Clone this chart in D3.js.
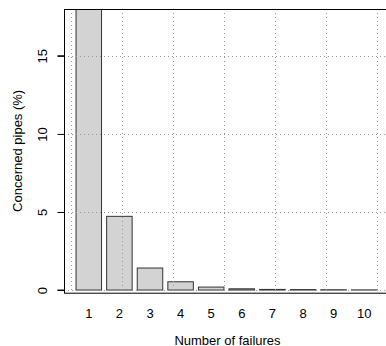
<!DOCTYPE html>
<html>
<head>
<meta charset="utf-8">
<script src="https://cdn.jsdelivr.net/npm/d3@7"></script>
<style>
  html, body { margin: 0; padding: 0; background: #fff; }
  svg { display: block; font-family: "Liberation Sans", Arial, sans-serif; }
</style>
</head>
<body>
<svg id="chart" width="386" height="346"></svg>
<script>
// Share of pipes (%) by number of recorded failures
const categories = ["1", "2", "3", "4", "5", "6", "7", "8", "9", "10"];
const values = [72.0, 4.72, 1.41, 0.53, 0.19, 0.08, 0.04, 0.03, 0.02, 0.01];
const yTicks = [0, 5, 10, 15];
const xGrid = [0, 2, 4, 6, 8, 10, 12];
const yGrid = [0, 5, 10, 15];

const svg = d3.select("#chart");
const fontSize = 13;

// Plot region (user coordinates follow a barplot layout: width 1, space 0.2)
const plot = { left: 64, top: 9, right: 389, bottom: 292.7 };
const x = d3.scaleLinear().domain([-0.272, 12.472]).range([plot.left, plot.right]);
const y = d3.scaleLinear().domain([-0.17, 18]).range([plot.bottom, plot.top]);

svg.append("defs").append("clipPath").attr("id", "plotClip")
  .append("rect")
  .attr("x", plot.left).attr("y", plot.top)
  .attr("width", plot.right - plot.left).attr("height", plot.bottom - plot.top);

const g = svg.append("g").attr("clip-path", "url(#plotClip)");

// Bars
const barW = 1, space = 0.2;
g.selectAll("rect.bar")
  .data(values)
  .join("rect")
  .attr("class", "bar")
  .attr("x", (d, i) => x(space + i * (barW + space)))
  .attr("width", (d, i) => x(barW) - x(0))
  .attr("y", d => y(d))
  .attr("height", d => y(0) - y(d))
  .attr("fill", "#d3d3d3")
  .attr("stroke", "#333")
  .attr("stroke-width", 1);

// Dotted grid drawn over the bars
g.selectAll("line.vgrid")
  .data(xGrid)
  .join("line")
  .attr("x1", d => Math.round(x(d)) + 0.5).attr("x2", d => Math.round(x(d)) + 0.5)
  .attr("y1", plot.top).attr("y2", plot.bottom)
  .attr("stroke", "#9a9a9a").attr("stroke-dasharray", "1,3");

g.selectAll("line.hgrid")
  .data(yGrid)
  .join("line")
  .attr("y1", d => Math.round(y(d)) + 0.5).attr("y2", d => Math.round(y(d)) + 0.5)
  .attr("x1", plot.left).attr("x2", plot.right)
  .attr("stroke", "#9a9a9a").attr("stroke-dasharray", "1,3");

// Box around the plot region
svg.append("rect")
  .attr("x", plot.left + 0.5).attr("y", plot.top + 0.5)
  .attr("width", plot.right - plot.left).attr("height", plot.bottom - plot.top)
  .attr("fill", "none").attr("stroke", "#000").attr("stroke-width", 1);

// Y axis
const yAxis = svg.append("g")
  .attr("transform", `translate(${plot.left + 0.5},0)`)
  .call(d3.axisLeft(y).tickValues(yTicks).tickSize(7).tickPadding(0).tickFormat(d3.format("d")));
yAxis.select(".domain")
  .attr("d", `M-7,${y(0)}H0V${y(15)}H-7`).attr("stroke", "#000");
yAxis.selectAll(".tick line").attr("stroke", "#000");
yAxis.selectAll(".tick text")
  .attr("font-size", fontSize).attr("fill", "#000")
  .attr("x", null)
  .attr("text-anchor", "middle")
  .attr("transform", "translate(-22.5,0) rotate(-90)")
  .attr("dy", "0.35em");

// X category labels under each bar
svg.selectAll("text.xlab")
  .data(categories)
  .join("text")
  .attr("class", "xlab")
  .attr("x", (d, i) => x(space + i * (barW + space) + barW / 2))
  .attr("y", 317.5)
  .attr("text-anchor", "middle")
  .attr("font-size", fontSize)
  .text(d => d);

// Axis titles
svg.append("text")
  .attr("x", (plot.left + 391) / 2)
  .attr("y", 344.5)
  .attr("text-anchor", "middle")
  .attr("font-size", fontSize)
  .text("Number of failures");

svg.append("text")
  .attr("transform", `translate(21.5,${(plot.top + plot.bottom) / 2}) rotate(-90)`)
  .attr("text-anchor", "middle")
  .attr("font-size", fontSize)
  .text("Concerned pipes (%)");
</script>
</body>
</html>
